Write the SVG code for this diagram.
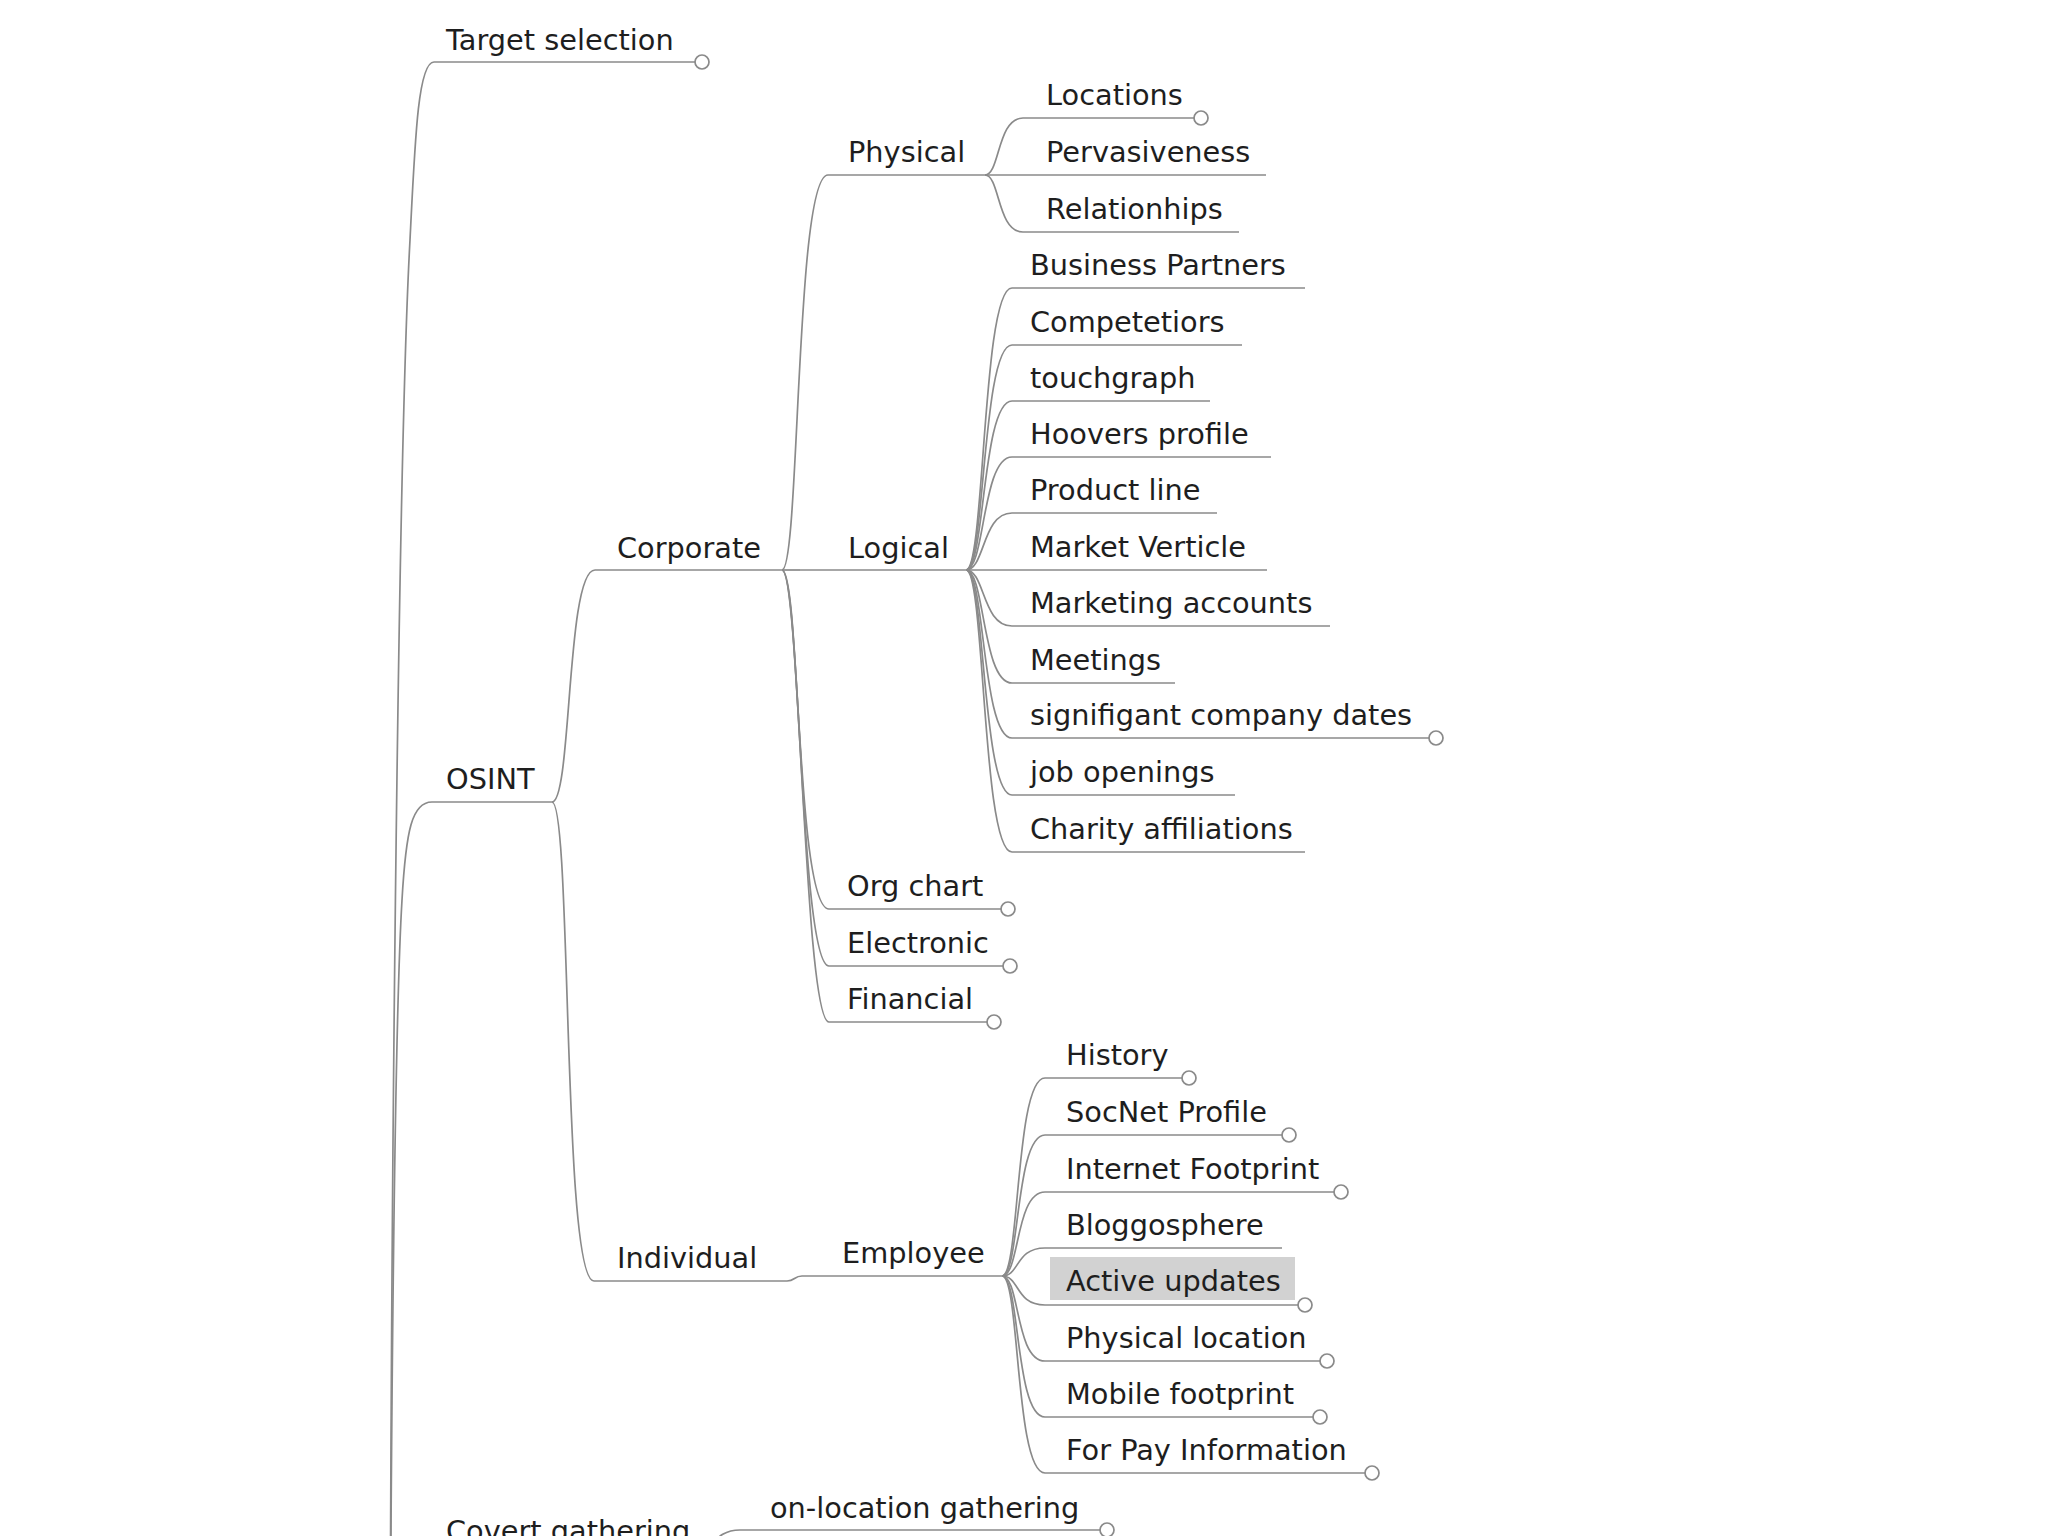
<svg xmlns="http://www.w3.org/2000/svg" width="2048" height="1536" viewBox="0 0 2048 1536">
<style>
  .t { font-family: "DejaVu Sans", "Liberation Sans", sans-serif; font-size: 28.8px; fill: #1e1e1e; }
  .u { stroke: #8a8a8a; stroke-width: 1.7; fill: none; }
  .c { stroke: #8a8a8a; stroke-width: 1.7; fill: none; }
  .fold { stroke: #8a8a8a; stroke-width: 1.7; fill: #ffffff; }
  .hl { fill: #d2d2d2; }
</style>
<rect width="2048" height="1536" fill="#ffffff"/>

<g id="connectors">
  <!-- root -->
  <path class="c" d="M 390 1700 C 392 1000, 400 420, 410 240 C 415 140, 418 62, 434 62"/>
  <path class="c" d="M 390 1700 C 392 1300, 396 1000, 402 900 C 406 830, 412 802, 432 802"/>
  <path class="c" d="M 390 1700 C 392 1620, 400 1555, 432 1555"/>
  <!-- OSINT -->
  <path class="c" d="M 552 802 C 572 802, 566 570, 595 570"/>
  <path class="c" d="M 552 802 C 572 802, 562 1281, 594 1281"/>
  <!-- Corporate -->
  <path class="c" d="M 782 570 C 800 570, 795 175, 828 175"/>
  <path class="c" d="M 782 570 L 800 570"/>
  <path class="c" d="M 782 570 C 800 570, 796 909, 829 909"/>
  <path class="c" d="M 782 570 C 800 570, 800 966, 829 966"/>
  <path class="c" d="M 782 570 C 800 570, 804 1022, 829 1022"/>
  <!-- Physical -->
  <path class="c" d="M 985 175 C 1000 175, 997 118, 1023 118"/>
  <path class="c" d="M 985 175 L 1023 175"/>
  <path class="c" d="M 985 175 C 1000 175, 997 232, 1023 232"/>
  <!-- Logical -->
  <path class="c" d="M 966 570 C 985 570, 982 288, 1012 288"/>
  <path class="c" d="M 966 570 C 985 570, 982 345, 1012 345"/>
  <path class="c" d="M 966 570 C 985 570, 982 401, 1012 401"/>
  <path class="c" d="M 966 570 C 985 570, 982 457, 1012 457"/>
  <path class="c" d="M 966 570 C 985 570, 982 513, 1012 513"/>
  <path class="c" d="M 966 570 L 1012 570"/>
  <path class="c" d="M 966 570 C 985 570, 982 626, 1012 626"/>
  <path class="c" d="M 966 570 C 985 570, 982 683, 1012 683"/>
  <path class="c" d="M 966 570 C 985 570, 982 738, 1012 738"/>
  <path class="c" d="M 966 570 C 985 570, 982 795, 1012 795"/>
  <path class="c" d="M 966 570 C 985 570, 982 852, 1012 852"/>
  <!-- Individual -->
  <path class="c" d="M 787 1281 C 795 1281, 794 1276, 802 1276"/>
  <!-- Employee -->
  <path class="c" d="M 1002 1276 C 1020 1276, 1015 1078, 1045 1078"/>
  <path class="c" d="M 1002 1276 C 1020 1276, 1015 1135, 1045 1135"/>
  <path class="c" d="M 1002 1276 C 1020 1276, 1015 1192, 1045 1192"/>
  <path class="c" d="M 1002 1276 C 1020 1276, 1015 1248, 1045 1248"/>
  <path class="c" d="M 1002 1276 C 1020 1276, 1015 1305, 1045 1305"/>
  <path class="c" d="M 1002 1276 C 1020 1276, 1015 1361, 1045 1361"/>
  <path class="c" d="M 1002 1276 C 1020 1276, 1015 1417, 1045 1417"/>
  <path class="c" d="M 1002 1276 C 1020 1276, 1015 1473, 1045 1473"/>
  <!-- Covert -->
  <path class="c" d="M 690 1555 C 712 1555, 712 1530, 740 1530"/>
</g>

<g id="n-target"><text class="t" x="446" y="50">Target selection</text><line class="u" x1="434" y1="62" x2="695" y2="62"/><circle class="fold" cx="702" cy="62" r="7"/></g>
<g id="n-osint"><text class="t" x="446" y="789">OSINT</text><line class="u" x1="432" y1="802" x2="552" y2="802"/></g>
<g id="n-covert"><text class="t" x="446" y="1541">Covert gathering</text><line class="u" x1="432" y1="1555" x2="690" y2="1555"/></g>

<g id="n-corporate"><text class="t" x="617" y="558">Corporate</text><line class="u" x1="595" y1="570" x2="782" y2="570"/></g>
<g id="n-individual"><text class="t" x="617" y="1268">Individual</text><line class="u" x1="594" y1="1281" x2="787" y2="1281"/></g>

<g id="n-physical"><text class="t" x="848" y="162">Physical</text><line class="u" x1="828" y1="175" x2="985" y2="175"/></g>
<g id="n-logical"><text class="t" x="848" y="558">Logical</text><line class="u" x1="800" y1="570" x2="966" y2="570"/></g>
<g id="n-orgchart"><text class="t" x="847" y="896">Org chart</text><line class="u" x1="829" y1="909" x2="1001" y2="909"/><circle class="fold" cx="1008" cy="909" r="7"/></g>
<g id="n-electronic"><text class="t" x="847" y="953">Electronic</text><line class="u" x1="829" y1="966" x2="1003" y2="966"/><circle class="fold" cx="1010" cy="966" r="7"/></g>
<g id="n-financial"><text class="t" x="847" y="1009">Financial</text><line class="u" x1="829" y1="1022" x2="987" y2="1022"/><circle class="fold" cx="994" cy="1022" r="7"/></g>

<g id="n-locations"><text class="t" x="1046" y="105">Locations</text><line class="u" x1="1023" y1="118" x2="1194" y2="118"/><circle class="fold" cx="1201" cy="118" r="7"/></g>
<g id="n-pervasiveness"><text class="t" x="1046" y="162">Pervasiveness</text><line class="u" x1="1023" y1="175" x2="1266" y2="175"/></g>
<g id="n-relationhips"><text class="t" x="1046" y="219">Relationhips</text><line class="u" x1="1023" y1="232" x2="1239" y2="232"/></g>

<g id="n-business"><text class="t" x="1030" y="275">Business Partners</text><line class="u" x1="1012" y1="288" x2="1305" y2="288"/></g>
<g id="n-competetiors"><text class="t" x="1030" y="332">Competetiors</text><line class="u" x1="1012" y1="345" x2="1242" y2="345"/></g>
<g id="n-touchgraph"><text class="t" x="1030" y="388">touchgraph</text><line class="u" x1="1012" y1="401" x2="1210" y2="401"/></g>
<g id="n-hoovers"><text class="t" x="1030" y="444">Hoovers profile</text><line class="u" x1="1012" y1="457" x2="1271" y2="457"/></g>
<g id="n-product"><text class="t" x="1030" y="500">Product line</text><line class="u" x1="1012" y1="513" x2="1217" y2="513"/></g>
<g id="n-market"><text class="t" x="1030" y="557">Market Verticle</text><line class="u" x1="1012" y1="570" x2="1267" y2="570"/></g>
<g id="n-marketing"><text class="t" x="1030" y="613">Marketing accounts</text><line class="u" x1="1012" y1="626" x2="1330" y2="626"/></g>
<g id="n-meetings"><text class="t" x="1030" y="670">Meetings</text><line class="u" x1="1012" y1="683" x2="1175" y2="683"/></g>
<g id="n-dates"><text class="t" x="1030" y="725">signifigant company dates</text><line class="u" x1="1012" y1="738" x2="1429" y2="738"/><circle class="fold" cx="1436" cy="738" r="7"/></g>
<g id="n-jobs"><text class="t" x="1030" y="782">job openings</text><line class="u" x1="1012" y1="795" x2="1235" y2="795"/></g>
<g id="n-charity"><text class="t" x="1030" y="839">Charity affiliations</text><line class="u" x1="1012" y1="852" x2="1305" y2="852"/></g>

<g id="n-employee"><text class="t" x="842" y="1263">Employee</text><line class="u" x1="802" y1="1276" x2="1002" y2="1276"/></g>

<g id="n-history"><text class="t" x="1066" y="1065">History</text><line class="u" x1="1045" y1="1078" x2="1182" y2="1078"/><circle class="fold" cx="1189" cy="1078" r="7"/></g>
<g id="n-socnet"><text class="t" x="1066" y="1122">SocNet Profile</text><line class="u" x1="1045" y1="1135" x2="1282" y2="1135"/><circle class="fold" cx="1289" cy="1135" r="7"/></g>
<g id="n-internet"><text class="t" x="1066" y="1179">Internet Footprint</text><line class="u" x1="1045" y1="1192" x2="1334" y2="1192"/><circle class="fold" cx="1341" cy="1192" r="7"/></g>
<g id="n-blogg"><text class="t" x="1066" y="1235">Bloggosphere</text><line class="u" x1="1045" y1="1248" x2="1282" y2="1248"/></g>
<g id="n-active"><rect class="hl" x="1050" y="1257" width="245" height="43"/><text class="t" x="1066" y="1291">Active updates</text><line class="u" x1="1045" y1="1305" x2="1298" y2="1305"/><circle class="fold" cx="1305" cy="1305" r="7"/></g>
<g id="n-physloc"><text class="t" x="1066" y="1348">Physical location</text><line class="u" x1="1045" y1="1361" x2="1320" y2="1361"/><circle class="fold" cx="1327" cy="1361" r="7"/></g>
<g id="n-mobile"><text class="t" x="1066" y="1404">Mobile footprint</text><line class="u" x1="1045" y1="1417" x2="1313" y2="1417"/><circle class="fold" cx="1320" cy="1417" r="7"/></g>
<g id="n-forpay"><text class="t" x="1066" y="1460">For Pay Information</text><line class="u" x1="1045" y1="1473" x2="1365" y2="1473"/><circle class="fold" cx="1372" cy="1473" r="7"/></g>

<g id="n-onlocation"><text class="t" x="770" y="1518">on-location gathering</text><line class="u" x1="740" y1="1530" x2="1100" y2="1530"/><circle class="fold" cx="1107" cy="1530" r="7"/></g>
</svg>
